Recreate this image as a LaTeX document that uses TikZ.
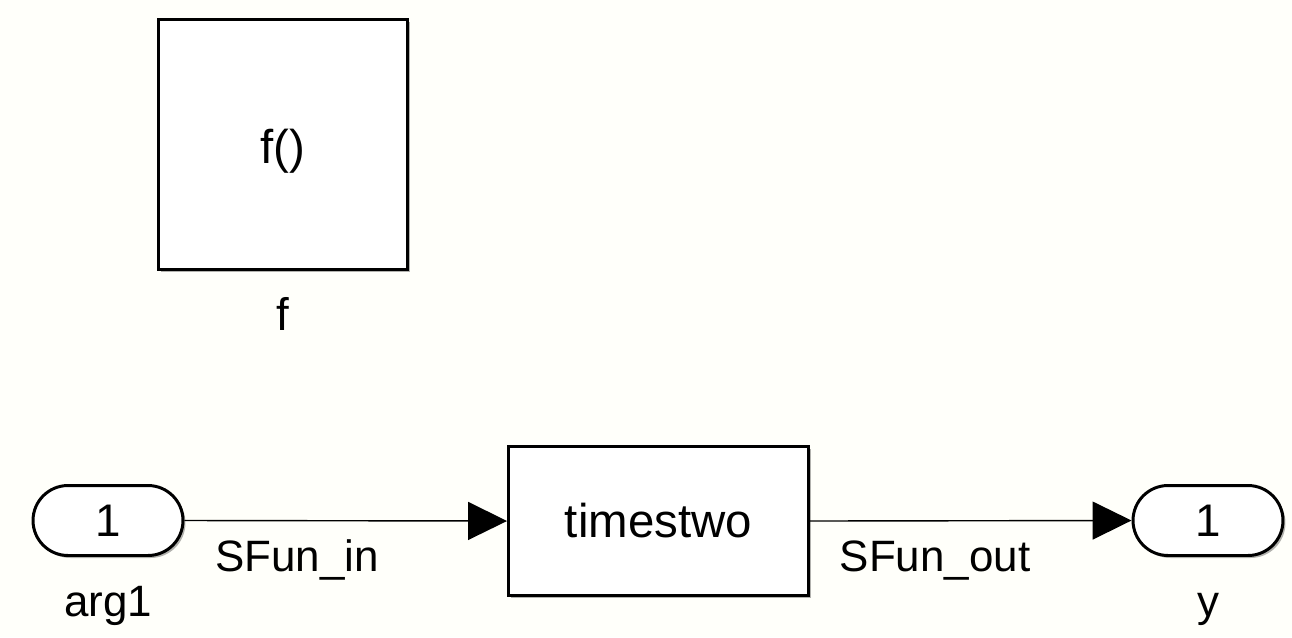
\documentclass[tikz,border=0pt]{standalone}
\usepackage{fontspec}
\setmainfont{Liberation Sans}
\usetikzlibrary{arrows.meta,shapes.misc,shadows}
\definecolor{canvas}{RGB}{255,255,250}
\begin{document}
\begin{tikzpicture}[x=0.02cm,y=-0.02cm,
    blk/.style={draw,line width=1.7pt,fill=white,inner sep=0pt,
      drop shadow={shadow xshift=0.05cm,shadow yshift=-0.05cm,fill=black,opacity=0.3},
      font=\fontsize{27}{32}\selectfont},
    port/.style={blk,rounded rectangle,minimum width=3cm,minimum height=1.4cm,
      font=\fontsize{26}{30}\selectfont},
    lbl/.style={anchor=base,inner sep=0pt,font=\fontsize{25}{30}\selectfont},
    sig/.style={line width=0.8pt,-{Triangle[length=0.78cm,width=0.76cm]}}]
	\fill[canvas] (0,0) rectangle (1292,637);
	\useasboundingbox (0,0) rectangle (1292,637);
	% function-call block
	\node[blk,minimum width=5cm,minimum height=5.02cm,text height=0.95cm,text depth=0.21cm]
	  (fcall) at (283,144.5) {f()};
	\node[lbl,font=\fontsize{26}{30}\selectfont] (fname) at (283,330) {f};
	% ports and S-function
	\node[port] (arg) at (108,520.5) {1};
	\node[blk,minimum width=6cm,minimum height=2.98cm] (sfun) at (658.5,521) {timestwo};
	\node[port] (yout) at (1208,520.5) {1};
	\node[lbl] (argname) at (108,616) {arg1};
	\node[lbl] (yname) at (1208,616) {y};
	% signals
	\draw[sig] (arg.east) -- (sfun.west);
	\draw[sig] (sfun.east) -- (yout.west);
	\node[lbl] (inlbl) at (297,571) {SFun\_in};
	\node[lbl] (outlbl) at (935,571) {SFun\_out};
\end{tikzpicture}
\end{document}
